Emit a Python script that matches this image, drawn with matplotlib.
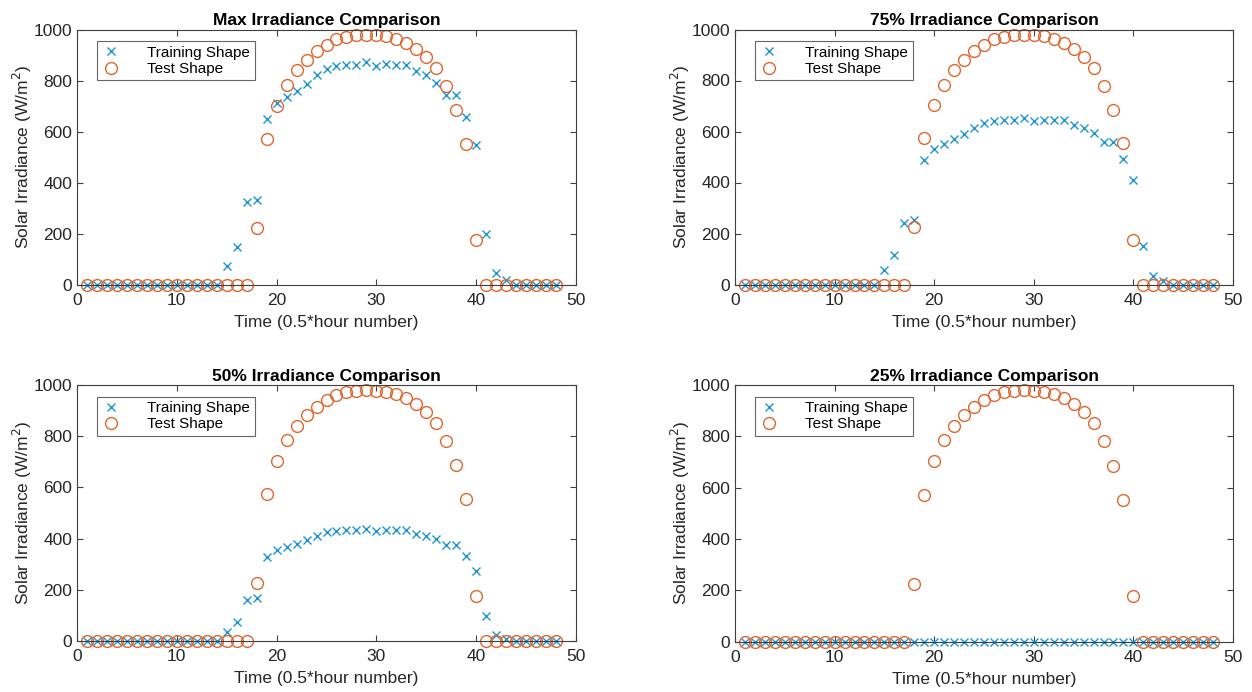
import numpy as np
import matplotlib.pyplot as plt

plt.rcParams['font.family'] = ['Liberation Sans', 'DejaVu Sans']

# half-hour index
hours = np.arange(1, 49)

# test shape (same in all four panels)
test_shape = [0] * 17 + [225, 573, 702, 784, 840, 882, 915, 941, 961, 971, 978, 980,
                         978, 974, 963, 948, 925, 893, 850, 780, 686, 553, 176] + [0] * 8

# training shapes
train_max = [0] * 14 + [75, 150, 323, 332, 650, 712, 735, 758, 788, 820, 846, 856, 861, 863,
                        872, 856, 865, 860, 860, 837, 820, 791, 745, 745, 659, 546, 199, 48, 20] + [0] * 5
train_75 = [0] * 14 + [56, 114, 242, 251, 488, 533, 552, 569, 591, 614, 634, 643, 647, 647,
                       654, 643, 647, 644, 644, 626, 614, 593, 559, 559, 494, 409, 150, 35, 13] + [0] * 5
train_50 = [0] * 14 + [36, 76, 160, 167, 327, 357, 368, 379, 395, 410, 424, 430, 432, 432,
                       438, 430, 434, 432, 432, 419, 410, 397, 374, 374, 331, 273, 99, 23, 6] + [0] * 5
train_25 = [0] * 48

titles = ['Max Irradiance Comparison', '75% Irradiance Comparison',
          '50% Irradiance Comparison', '25% Irradiance Comparison']
training = [train_max, train_75, train_50, train_25]

blue = '#1e95d3'
orange = '#e0652e'
axcol = '#404040'

fig = plt.figure(figsize=(12.52, 6.92), dpi=100)
W, H = 1252, 692
boxes = [(77, 29.5, 576, 285), (735, 29.5, 1233, 284.5),
         (77, 385, 576, 641), (735, 385, 1233, 641.5)]

for (x0, y0, x1, y1), title, train in zip(boxes, titles, training):
    ax = fig.add_axes([x0 / W, 1 - y1 / H, (x1 - x0) / W, (y1 - y0) / H])
    ax.plot(hours, train, linestyle='none', marker='x', color=blue,
            markersize=6, markeredgewidth=1.0, label='Training Shape', clip_on=False)
    ax.plot(hours, test_shape, linestyle='none', marker='o', markerfacecolor='none',
            markeredgecolor=orange, markersize=8.5, markeredgewidth=1.0,
            label='Test Shape', clip_on=False)
    ax.set_xlim(0, 50)
    ax.set_ylim(0, 1000)
    ax.set_xticks(range(0, 51, 10))
    ax.set_yticks(range(0, 1001, 200))
    ax.tick_params(direction='in', top=True, right=True, length=4, width=0.8,
                   colors=axcol, labelsize=12.5, labelcolor='#262626')
    ax.tick_params(axis='x', pad=6)
    for s in ax.spines.values():
        s.set_color(axcol)
        s.set_linewidth(0.8)
    ax.set_title(title, fontsize=12.5, fontweight='bold', pad=3)
    ax.set_xlabel('Time (0.5*hour number)', fontsize=12.5, color='#262626', labelpad=5)
    ax.set_ylabel('Solar Irradiance (W/m$^2$)', fontsize=12.5, color='#262626', labelpad=0)
    leg = ax.legend(loc='upper left', bbox_to_anchor=(0.04, 0.955), fontsize=11,
                    frameon=True, fancybox=False, handlelength=1.2, handletextpad=1.8,
                    borderpad=0.3, labelspacing=0.15, borderaxespad=0)
    leg.get_frame().set_edgecolor(axcol)
    leg.get_frame().set_linewidth(0.8)

fig.savefig('out.png', dpi=100)
